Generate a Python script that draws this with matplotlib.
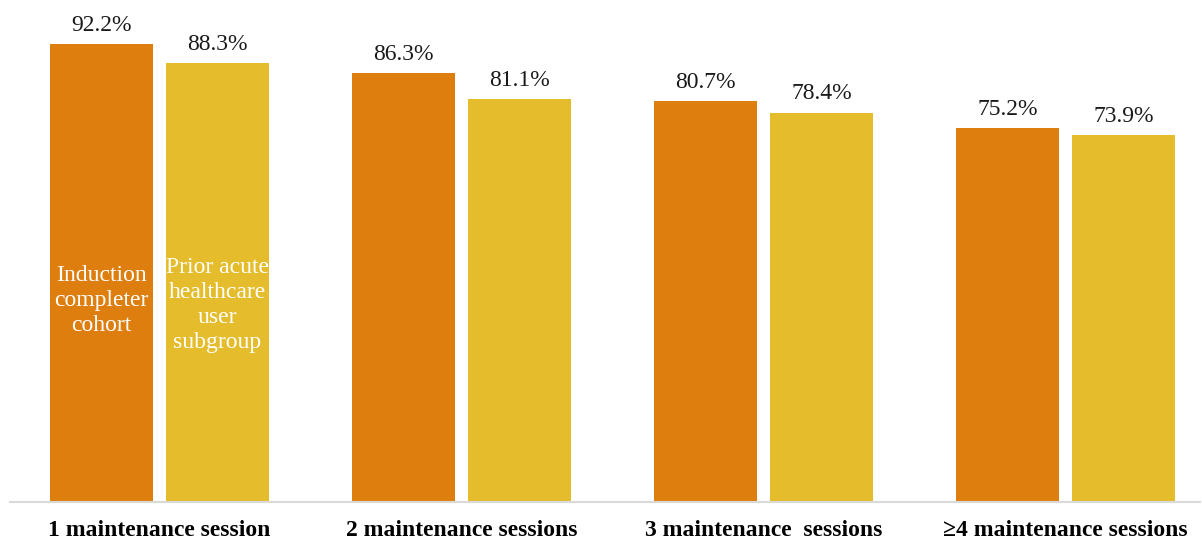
import numpy as np
import matplotlib.pyplot as plt

plt.rcParams['font.family'] = ['Liberation Serif', 'DejaVu Serif']

categories = ['1 maintenance session', '2 maintenance sessions',
              '3 maintenance  sessions', '\u22654 maintenance sessions']
cohort = [92.2, 86.3, 80.7, 75.2]
subgroup = [88.3, 81.1, 78.4, 73.9]
series_names = ['Induction\ncompleter\ncohort', 'Prior acute\nhealthcare\nuser\nsubgroup']

orange = '#DD7E0E'
yellow = '#E5BC2B'

fig = plt.figure(figsize=(12.02, 5.41), dpi=100)
ax = fig.add_axes([10 / 1202, 39 / 541, 1190 / 1202, 502 / 541])

x = np.arange(len(categories))
off = 0.192
w = 0.341
b1 = ax.bar(x - off, cohort, w, color=orange)
b2 = ax.bar(x + off, subgroup, w, color=yellow)

for bars, vals in [(b1, cohort), (b2, subgroup)]:
    for r, v in zip(bars, vals):
        ax.annotate(f'{v:.1f}%', (r.get_x() + r.get_width() / 2, v),
                    xytext=(0, 6), textcoords='offset points',
                    ha='center', va='bottom', fontsize=17, color='#1a1a1a')

# series names written inside the first pair of bars
ax.text(x[0] - off, 40.5, series_names[0], ha='center', va='center',
        color='white', fontsize=17, linespacing=1.25)
ax.text(x[0] + off, 39.7, series_names[1], ha='center', va='center',
        color='white', fontsize=17, linespacing=1.25)

ax.set_xlim(-0.495, 3.445)
ax.set_ylim(0, 101.07)
ax.set_xticks(x)
ax.set_xticklabels(categories, fontsize=17, fontweight='bold')
ax.tick_params(axis='x', length=0, pad=13)
ax.set_yticks([])
for s in ['top', 'right', 'left']:
    ax.spines[s].set_visible(False)
ax.spines['bottom'].set_color('#d9d9d9')
ax.spines['bottom'].set_linewidth(1.5)

fig.savefig('out.png', dpi=100)
